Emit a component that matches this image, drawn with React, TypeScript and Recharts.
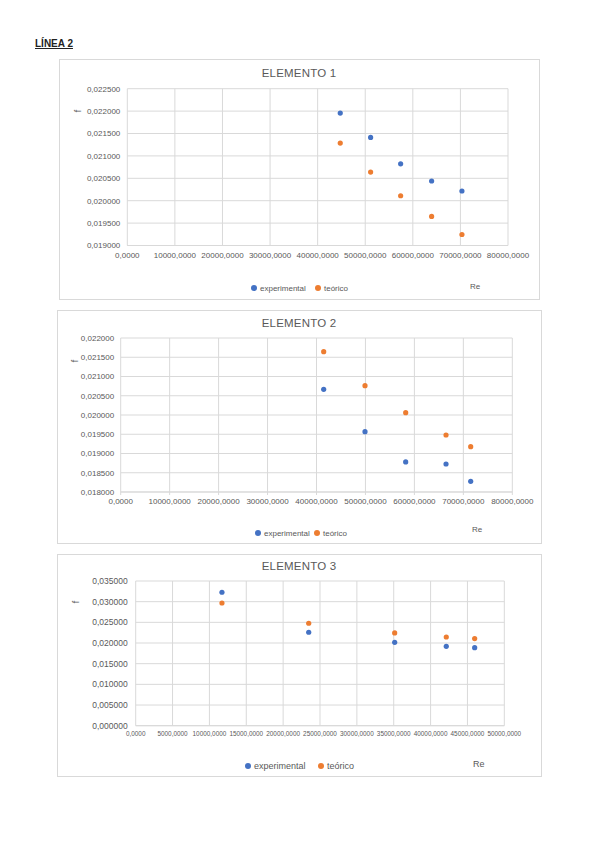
import React from 'react';
import { ScatterChart, Scatter, XAxis, YAxis, CartesianGrid } from 'recharts';

// ---------- DATA ----------
const re1 = [44750, 51130, 57440, 63950, 70320];
const fExp1 = [0.021955, 0.021413, 0.020824, 0.02044, 0.020217];
const fTeo1 = [0.021286, 0.02064, 0.02011, 0.01965, 0.019245];

const re2 = [41470, 49910, 58220, 66460, 71500];
const fExp2 = [0.020668, 0.019566, 0.01878, 0.018727, 0.018278];
const fTeo2 = [0.021644, 0.020761, 0.02006, 0.01948, 0.019177];

const re3 = [11700, 23470, 35130, 42130, 45980];
const fExp3 = [0.03228, 0.0226, 0.02017, 0.0192, 0.01888];
const fTeo3 = [0.02968, 0.02478, 0.02243, 0.02146, 0.02107];

const xTicks1 = [0, 10000, 20000, 30000, 40000, 50000, 60000, 70000, 80000];
const yTicks1 = [0.019, 0.0195, 0.02, 0.0205, 0.021, 0.0215, 0.022, 0.0225];
const xTicks2 = [0, 10000, 20000, 30000, 40000, 50000, 60000, 70000, 80000];
const yTicks2 = [0.018, 0.0185, 0.019, 0.0195, 0.02, 0.0205, 0.021, 0.0215, 0.022];
const xTicks3 = [0, 5000, 10000, 15000, 20000, 25000, 30000, 35000, 40000, 45000, 50000];
const yTicks3 = [0, 0.005, 0.01, 0.015, 0.02, 0.025, 0.03, 0.035];

const titles = ['ELEMENTO 1', 'ELEMENTO 2', 'ELEMENTO 3'];
const seriesNames = ['experimental', 'teórico'];
const pageTitle = 'LÍNEA 2';
const xTitle = 'Re';
const yTitle = 'f';

// ---------- STYLE ----------
const BLUE = '#4472C4';
const ORANGE = '#ED7D31';
const GRAY = '#595959';
const GRID = '#d9d9d9';
const FONT = '"Liberation Sans", Arial, sans-serif';

const fmtX = (v: number) => v.toFixed(4).replace('.', ',');
const fmtY = (v: number) => v.toFixed(6).replace('.', ',');

const zip = (xs: number[], ys: number[]) => xs.map((x, i) => ({ re: x, f: ys[i] }));

const Dot = (color: string) => (props: any) =>
  <circle cx={props.cx} cy={props.cy} r={2.6} fill={color} />;

type PanelProps = {
  box: { x: number; y: number; w: number; h: number };
  plot: { l: number; r: number; t: number; b: number };
  title: string;
  titleY: number;
  expData: { re: number; f: number }[];
  teoData: { re: number; f: number }[];
  xTicks: number[];
  yTicks: number[];
  xTickGap: number;
  xTickSize: number;
  yTickGap: number;
  yFs: number;
  xFs: number;
  fPos: { x: number; y: number };
  legendY: number;
  legendX: [number, number];
  legendFs: number;
  rePos: { x: number; y: number };
};

const Panel = (p: PanelProps) => {
  const { box, plot } = p;
  const left = plot.l - box.x;
  const top = plot.t - box.y;
  const right = box.x + box.w - plot.r;
  const bottom = box.y + box.h - plot.b;
  const abs = (x: number, y: number): React.CSSProperties => ({ position: 'absolute', left: x, top: y });
  return (
    <>
      <div style={{ position: 'absolute', left: box.x, top: box.y, width: box.w, height: box.h, border: `1px solid ${GRID}`, boxSizing: 'border-box', background: '#fff' }} />
      <div style={{ ...abs(box.x, box.y) }}>
        <ScatterChart width={box.w} height={box.h} margin={{ top, right, bottom: 0, left: 0 }}>
          <CartesianGrid stroke={GRID} strokeWidth={1} />
          <XAxis type="number" dataKey="re" domain={[p.xTicks[0], p.xTicks[p.xTicks.length - 1]]} ticks={p.xTicks} interval={0}
            tickFormatter={fmtX} height={bottom} tick={{ fill: GRAY, fontSize: p.xFs, fontFamily: FONT }}
            axisLine={{ stroke: GRID }} tickLine={p.xTickSize > 0 ? { stroke: GRID } : false} tickSize={p.xTickSize} tickMargin={p.xTickGap} allowDataOverflow />
          <YAxis type="number" dataKey="f" domain={[p.yTicks[0], p.yTicks[p.yTicks.length - 1]]} ticks={p.yTicks} interval={0}
            tickFormatter={fmtY} width={left} tick={{ fill: GRAY, fontSize: p.yFs, fontFamily: FONT }}
            axisLine={false} tickLine={false} tickSize={0} tickMargin={p.yTickGap} allowDataOverflow />
          <Scatter name={seriesNames[0]} data={p.expData} fill={BLUE} shape={Dot(BLUE)} isAnimationActive={false} />
          <Scatter name={seriesNames[1]} data={p.teoData} fill={ORANGE} shape={Dot(ORANGE)} isAnimationActive={false} />
        </ScatterChart>
      </div>
      <div style={{ position: 'absolute', left: box.x, width: box.w, top: p.titleY - 8, textAlign: 'center', fontSize: 11.5, color: GRAY, fontFamily: FONT, letterSpacing: 0.2, lineHeight: '16px' }}>
        <span style={{ position: 'relative', left: 299 - (box.x + box.w / 2) }}>{p.title}</span>
      </div>
      <div style={{ ...abs(p.fPos.x - 5, p.fPos.y - 6), width: 10, height: 12, fontSize: 9, color: GRAY, fontFamily: FONT, transform: 'rotate(-90deg)', textAlign: 'center', lineHeight: '12px' }}>{yTitle}</div>
      {[0, 1].map((i) => (
        <div key={i} style={{ ...abs(p.legendX[i] - 3, p.legendY - 6), height: 12, display: 'flex', alignItems: 'center', fontSize: p.legendFs, color: GRAY, fontFamily: FONT, whiteSpace: 'nowrap' }}>
          <span style={{ display: 'inline-block', width: 6, height: 6, borderRadius: 3, background: i === 0 ? BLUE : ORANGE, marginRight: 3 }} />
          {seriesNames[i]}
        </div>
      ))}
      <div style={{ ...abs(p.rePos.x - 8, p.rePos.y - 6), height: 12, lineHeight: '12px', fontSize: p.legendFs, color: GRAY, fontFamily: FONT }}>{xTitle}</div>
    </>
  );
};

export default function App() {
  return (
    <div style={{ position: 'absolute', left: 0, top: 0, width: 599, height: 848, background: '#fff' }}>
      <div style={{ position: 'absolute', left: 35, top: 37, fontSize: 10, fontWeight: 'bold', textDecoration: 'underline', fontFamily: FONT, color: '#222', lineHeight: '14px' }}>{pageTitle}</div>
      <Panel box={{ x: 59, y: 59, w: 481, h: 241 }} plot={{ l: 127.3, r: 508, t: 88.7, b: 245.5 }}
        title={titles[0]} titleY={73} expData={zip(re1, fExp1)} teoData={zip(re1, fTeo1)}
        xTicks={xTicks1} yTicks={yTicks1} xTickGap={7} xTickSize={0} yTickGap={7} yFs={8} xFs={8}
        fPos={{ x: 78, y: 111 }} legendY={288} legendX={[254, 318]} legendFs={8} rePos={{ x: 478, y: 287 }} />
      <Panel box={{ x: 57, y: 310, w: 485, h: 234 }} plot={{ l: 120.7, r: 512.3, t: 338, b: 492 }}
        title={titles[1]} titleY={323} expData={zip(re2, fExp2)} teoData={zip(re2, fTeo2)}
        xTicks={xTicks2} yTicks={yTicks2} xTickGap={3} xTickSize={3} yTickGap={6.5} yFs={8} xFs={8}
        fPos={{ x: 75, y: 361 }} legendY={533} legendX={[258, 317]} legendFs={8} rePos={{ x: 480, y: 530 }} />
      <Panel box={{ x: 57, y: 554, w: 485, h: 223 }} plot={{ l: 135.7, r: 504.3, t: 581, b: 725.7 }}
        title={titles[2]} titleY={566} expData={zip(re3, fExp3)} teoData={zip(re3, fTeo3)}
        xTicks={xTicks3} yTicks={yTicks3} xTickGap={5.5} xTickSize={0} yTickGap={8} yFs={8.5} xFs={6.4}
        fPos={{ x: 76, y: 602 }} legendY={766} legendX={[248, 321]} legendFs={9} rePos={{ x: 481, y: 764 }} />
    </div>
  );
}
